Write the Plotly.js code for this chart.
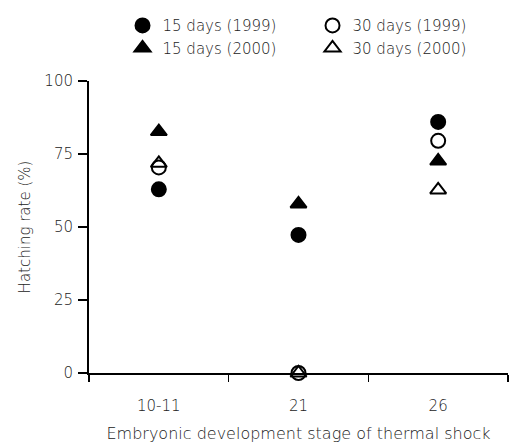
<!DOCTYPE html>
<html>
<head>
<meta charset="utf-8">
<script src="https://cdn.plot.ly/plotly-3.0.1.min.js"></script>
<style>
  html, body { margin: 0; padding: 0; background: #fff; }
  #chart { width: 509px; height: 443px; }
</style>
</head>
<body>
<div id="chart"></div>
<script>
// Embryonic stage at which the thermal shock was applied
const stages = ["10-11", "21", "26"];

// Hatching rate (%) per shock duration and year
const days15_1999 = [62.9, 47.3, 86.0];
const days30_1999 = [70.4, 0, 79.5];
const days15_2000 = [82.7, 57.9, 72.6];
const days30_2000 = [71.8, 0, 62.7];

const seriesNames = ["15 days (1999)", "30 days (1999)", "15 days (2000)", "30 days (2000)"];

const FONT = "DejaVu Sans, Liberation Sans, sans-serif";
const INK = "#000";
const TEXT = "#222";

function series(name, y, symbol) {
  return {
    type: "scatter",
    mode: "markers",
    name: name,
    x: stages,
    y: y,
    cliponaxis: false,
    marker: {
      symbol: symbol,
      size: 14,
      color: INK,
      line: { color: INK, width: 2 }
    }
  };
}

const traces = [
  series(seriesNames[0], days15_1999, "circle"),
  series(seriesNames[1], days30_1999, "circle-open"),
  series(seriesNames[2], days15_2000, "triangle-up"),
  series(seriesNames[3], days30_2000, "triangle-up-open")
];

const layout = {
  width: 509,
  height: 443,
  margin: { l: 89, r: 1, t: 81, b: 70 },
  paper_bgcolor: "#fff",
  plot_bgcolor: "#fff",
  font: { family: FONT, size: 15, color: TEXT, weight: 300 },
  showlegend: true,
  legend: {
    orientation: "h",
    x: 0.08,
    xanchor: "left",
    y: 1.246,
    yanchor: "top",
    entrywidth: 145,
    entrywidthmode: "pixels",
    font: { family: FONT, size: 15, color: TEXT, weight: 300 },
    bgcolor: "rgba(0,0,0,0)",
    itemclick: false
  },
  xaxis: {
    type: "category",
    range: [-0.5, 2.5],
    showgrid: false,
    zeroline: false,
    showline: true,
    linecolor: INK,
    linewidth: 2,
    ticks: "outside",
    tickson: "boundaries",
    ticklen: 7,
    tickwidth: 1.5,
    tickcolor: INK,
    ticklabelstandoff: 18,
    tickfont: { family: FONT, size: 15, color: TEXT },
    title: {
      text: "Embryonic development stage of thermal shock",
      font: { family: FONT, size: 16, color: TEXT },
      standoff: 14
    }
  },
  yaxis: {
    range: [0, 100],
    tickvals: [0, 25, 50, 75, 100],
    showgrid: false,
    zeroline: false,
    showline: true,
    linecolor: INK,
    linewidth: 2,
    ticks: "outside",
    ticklen: 9,
    tickwidth: 1.5,
    tickcolor: INK,
    ticklabelstandoff: 2,
    tickfont: { family: FONT, size: 15, color: TEXT },
    title: {
      text: "Hatching rate (%)",
      font: { family: FONT, size: 15, color: TEXT },
      standoff: 10
    }
  }
};

Plotly.newPlot("chart", traces, layout, { displayModeBar: false, staticPlot: true });
</script>
</body>
</html>
